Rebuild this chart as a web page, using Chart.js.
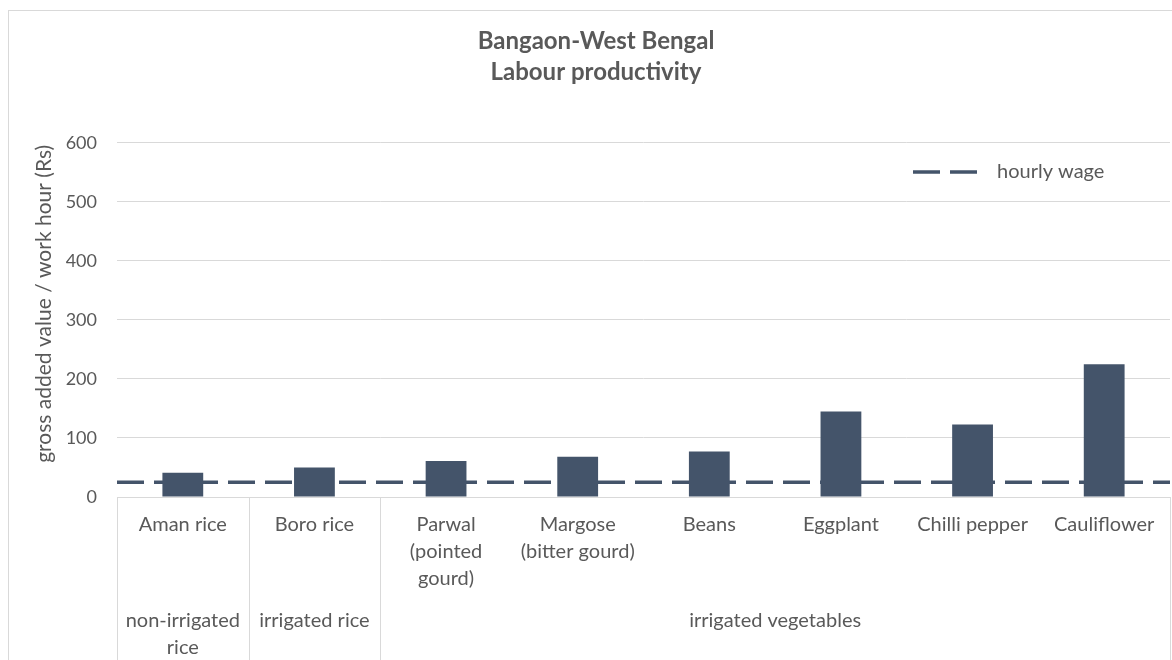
<!DOCTYPE html>
<html lang="en">
<head>
<meta charset="UTF-8">
<title>Bangaon-West Bengal - Labour productivity</title>
<script src="https://cdn.jsdelivr.net/npm/chart.js"></script>
<style>
  body { margin: 0; background: #fff; }
  .grafico { width: 1172px; height: 660px; }
</style>
</head>
<body>
<div class="grafico"><canvas id="myChart"></canvas></div>
<script>
// dados
const categorias = [
  ['Aman rice'],
  ['Boro rice'],
  ['Parwal', '(pointed', 'gourd)'],
  ['Margose', '(bitter gourd)'],
  ['Beans'],
  ['Eggplant'],
  ['Chilli pepper'],
  ['Cauliflower']
];
const produtividade = [41, 50, 61, 68, 77, 145, 123, 225];
const grupos = [['non-irrigated', 'rice'], ['irrigated rice'], ['irrigated vegetables']];
const grupoTamanhos = [1, 1, 6];
const salarioHora = 25;
const salarioX = [0, 1];

const cor = '#44546A';
const cinza = '#D9D9D9';
const texto = '#595959';
const fonte = 'Lato';

// eixo x em dois níveis + legenda + moldura
const eixoAgrupado = {
  id: 'eixoAgrupado',
  afterDraw(chart) {
    const ctx = chart.ctx;
    const x = chart.scales.x;
    const area = chart.chartArea;
    const meia = (x.getPixelForValue(1) - x.getPixelForValue(0)) / 2;
    ctx.save();
    ctx.strokeStyle = cinza;
    ctx.lineWidth = 1;
    ctx.strokeRect(8.5, 10.5, 1300, 800);

    let idx = 0;
    const borda = i => x.getPixelForValue(i) - meia;
    const linhaV = px => {
      px = Math.round(px) + 0.5;
      ctx.beginPath();
      ctx.moveTo(px, area.bottom);
      ctx.lineTo(px, chart.height);
      ctx.stroke();
    };
    linhaV(borda(0));
    ctx.fillStyle = texto;
    ctx.font = '20px ' + fonte;
    ctx.textAlign = 'center';
    ctx.textBaseline = 'middle';
    grupos.forEach((g, k) => {
      const ini = idx;
      idx += grupoTamanhos[k];
      const fim = idx;
      linhaV(borda(fim));
      const cx = (borda(ini) + borda(fim)) / 2;
      g.forEach((t, j) => ctx.fillText(t, cx, 621 + j * 27));
    });

    // legenda
    const ds = chart.data.datasets[1];
    ctx.strokeStyle = ds.borderColor;
    ctx.lineWidth = ds.borderWidth;
    ctx.setLineDash(ds.borderDash);
    ctx.beginPath();
    ctx.moveTo(913, 172);
    ctx.lineTo(978, 172);
    ctx.stroke();
    ctx.setLineDash([]);
    ctx.textAlign = 'left';
    ctx.fillText(ds.label, 997, 172);
    ctx.restore();
  }
};

const ctx = document.getElementById('myChart');
const chart = new Chart(ctx, {
  type: 'bar',
  data: {
    labels: categorias,
    datasets: [{
      type: 'bar',
      label: 'labour productivity',
      data: produtividade,
      backgroundColor: cor,
      barPercentage: 0.31,
      categoryPercentage: 1,
      grouped: false,
      order: 2
    }, {
      type: 'line',
      label: 'hourly wage',
      xAxisID: 'xw',
      data: salarioX.map(v => ({ x: v, y: salarioHora })),
      borderColor: cor,
      borderWidth: 3.5,
      borderDash: [27, 10],
      pointRadius: 0,
      order: 1
    }]
  },
  options: {
    responsive: true,
    maintainAspectRatio: false,
    animation: false,
    layout: { padding: { left: 22, right: 2, top: 0, bottom: 0 } },
    plugins: {
      legend: { display: false },
      tooltip: { enabled: false },
      title: {
        display: true,
        text: ['Bangaon-West Bengal', 'Labour productivity'],
        color: texto,
        font: { family: fonte, size: 24, weight: 'bold', lineHeight: 1.29 },
        padding: { top: 26, bottom: 55 }
      }
    },
    scales: {
      x: {
        offset: true,
        grid: { display: false, drawTicks: false },
        border: { display: true, color: cinza },
        ticks: {
          color: texto,
          font: { family: fonte, size: 20, lineHeight: 1.35 },
          padding: 14,
          autoSkip: false,
          maxRotation: 0
        },
        afterFit: s => { s.height = 163; }
      },
      xw: {
        type: 'linear',
        min: 0,
        max: 1,
        offset: false,
        display: false
      },
      y: {
        min: 0,
        max: 600,
        ticks: {
          stepSize: 100,
          color: texto,
          font: { family: fonte, size: 18 },
          padding: 20
        },
        grid: { color: cinza, drawTicks: false },
        border: { display: false },
        title: {
          display: true,
          text: '      gross added value / work hour (Rs)',
          color: texto,
          font: { family: fonte, size: 21 },
          padding: { top: 10, bottom: 0 }
        },
        afterFit: s => { s.width = 95; }
      }
    }
  },
  plugins: [eixoAgrupado]
});
</script>
</body>
</html>
